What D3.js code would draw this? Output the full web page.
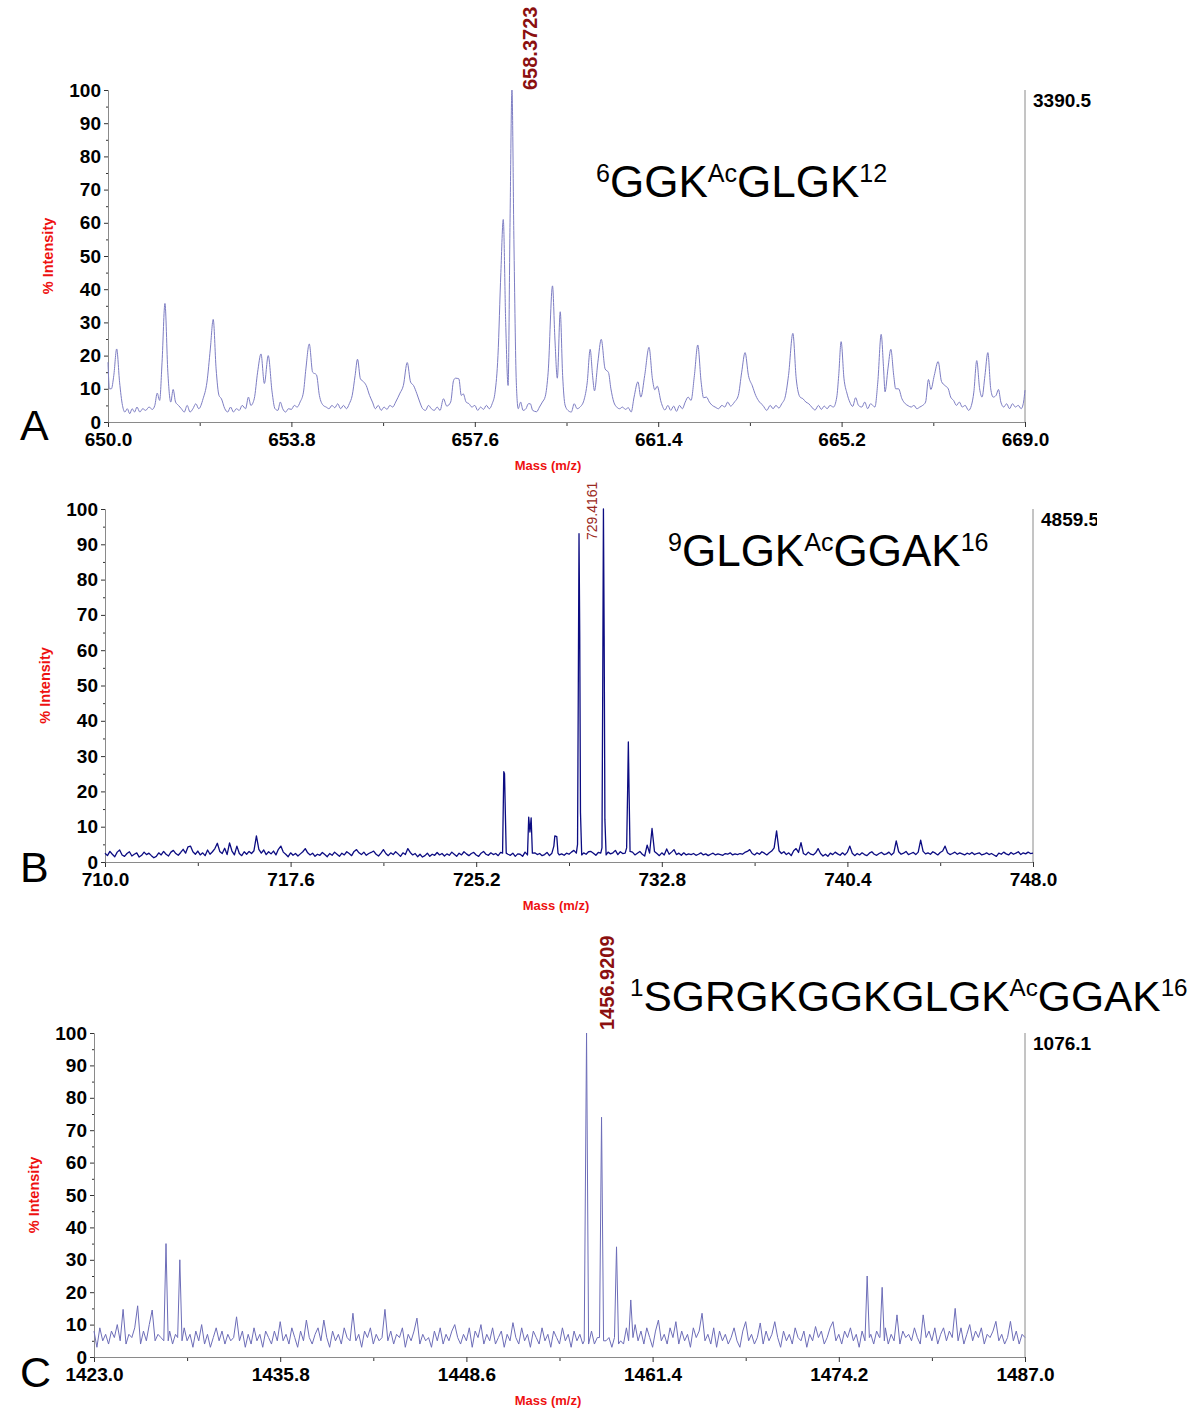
<!DOCTYPE html>
<html>
<head>
<meta charset="utf-8">
<script src="https://cdn.jsdelivr.net/npm/d3@7"></script>
<style>
  body { margin: 0; background: #fff; }
  svg { display: block; font-family: "Liberation Sans", Arial, sans-serif; }
</style>
</head>
<body>
<div id="chart"></div>
<script>

// ---- panel A : smooth profile, [m/z, % intensity]
var spectrumA = [
  [650.00,18],[650.03,10],[650.07,10],[650.12,14],[650.18,22],[650.24,12],[650.30,5],[650.35,3],
  [650.40,4],[650.45,2.5],[650.50,4],[650.55,3],[650.60,4.5],[650.66,3],[650.72,4],[650.78,3.5],
  [650.85,4.5],[650.92,3.8],[650.97,5],[651.02,8.7],[651.07,6.5],[651.12,18],[651.18,35.7],[651.24,15],
  [651.30,6],[651.35,9.8],[651.40,6],[651.46,5],[651.52,4],[651.58,3],[651.64,5],[651.70,3],
  [651.76,4],[651.82,5.5],[651.88,4],[651.97,7],[652.05,12],[652.12,22],[652.18,30.9],[652.24,16],
  [652.30,8],[652.35,7],[652.42,4],[652.48,3],[652.54,4.5],[652.60,3],[652.66,4],[652.72,3.5],
  [652.78,5],[652.85,4],[652.91,7.5],[652.96,5],[653.03,7],[653.10,15],[653.17,20.5],[653.24,11.6],
  [653.32,20],[653.40,9],[653.46,4],[653.52,3.5],[653.57,6],[653.62,4],[653.68,3],[653.74,4],
  [653.80,3.8],[653.86,5],[653.92,4.5],[653.98,6],[654.05,9],[654.10,16],[654.17,23.5],[654.24,15],
  [654.32,14.2],[654.38,8],[654.46,5],[654.52,4.5],[654.58,4],[654.64,5],[654.70,4.3],[654.76,5.5],
  [654.82,4],[654.88,5],[654.94,4],[655.00,5.5],[655.06,8],[655.12,14],[655.17,18.9],[655.23,13],
  [655.29,12.2],[655.35,11],[655.42,8],[655.48,6],[655.54,4],[655.60,5],[655.66,3.5],[655.72,4.5],
  [655.78,3.8],[655.84,5],[655.90,4.5],[655.96,6],[656.05,8.7],[656.12,11],[656.20,17.9],[656.27,12],
  [656.33,11],[656.40,8.5],[656.46,6],[656.52,4],[656.58,3.5],[656.64,5],[656.70,4],[656.76,3.5],
  [656.82,4.5],[656.88,3.5],[656.95,7],[657.02,4.8],[657.10,6],[657.16,12.5],[657.20,13.2],[657.27,13],
  [657.32,8],[657.36,8.5],[657.42,6],[657.48,5.5],[657.54,4.5],[657.60,5],[657.66,3.5],[657.72,4.5],
  [657.78,3.8],[657.84,5],[657.90,4],[657.96,5.5],[658.02,9],[658.08,20],[658.14,45],[658.19,61],
  [658.24,30],[658.29,11],[658.33,60],[658.37,100],[658.41,55],[658.46,12],[658.50,4],[658.55,6],
  [658.60,3.5],[658.66,4],[658.71,5.5],[658.75,5.5],[658.80,3.5],[658.88,3.1],[658.94,4.5],[659.00,6],
  [659.06,7.7],[659.12,15],[659.21,41],[659.26,25],[659.31,13.2],[659.37,33.2],[659.42,14],[659.47,5.1],
  [659.53,3.5],[659.60,3],[659.66,5.5],[659.72,4],[659.78,4.5],[659.86,6.5],[659.93,12],[659.99,21.9],
  [660.04,14],[660.08,9.4],[660.15,18],[660.22,24.9],[660.30,16],[660.37,14.9],[660.42,10],[660.48,6],
  [660.54,4.5],[660.60,4],[660.66,4.5],[660.72,3.8],[660.78,4.3],[660.84,3],[660.90,7.5],[660.98,12.1],
  [661.04,7.5],[661.12,14],[661.21,22.5],[661.28,13],[661.33,9.7],[661.38,10.8],[661.46,6],[661.54,3.6],
  [661.60,5],[661.66,3.5],[661.72,4.8],[661.78,3.2],[661.84,5],[661.90,4],[661.96,6],[662.02,7.5],
  [662.08,6.5],[662.15,14],[662.22,23.2],[662.29,12],[662.34,7.3],[662.40,7.5],[662.46,6],[662.52,5],
  [662.58,4.5],[662.65,4],[662.72,5],[662.78,4.5],[662.84,6],[662.90,4.8],[662.98,6],[663.06,8],
  [663.13,15],[663.20,20.9],[663.27,14],[663.35,10.9],[663.42,8],[663.50,6],[663.57,5],[663.65,3.5],
  [663.72,5],[663.78,4],[663.84,5],[663.90,4.2],[663.96,5.5],[664.03,7.5],[664.10,14],[664.19,26.7],
  [664.26,13],[664.34,7.5],[664.40,7],[664.46,6],[664.52,5.5],[664.58,4.5],[664.65,3.6],[664.72,5],
  [664.78,3.8],[664.84,4.8],[664.90,4],[664.96,5],[665.03,4.5],[665.10,7.5],[665.14,14],[665.19,24.2],
  [665.25,13],[665.31,8.7],[665.37,6],[665.43,4.7],[665.49,7.3],[665.55,5],[665.62,4.5],[665.68,6],
  [665.74,4],[665.80,5.5],[665.89,4.5],[665.95,12],[666.02,26.4],[666.07,16],[666.10,9.1],[666.16,16],
  [666.22,21.9],[666.28,14],[666.32,10],[666.38,10],[666.45,7],[666.52,5.5],[666.58,4.9],[666.64,4.5],
  [666.70,5],[666.76,4],[666.82,4.5],[666.88,5],[666.94,6],[667.00,12.8],[667.05,9.8],[667.12,14],
  [667.20,18.2],[667.27,12.2],[667.34,11],[667.41,10],[667.46,7.5],[667.52,6.5],[667.58,5],[667.64,6],
  [667.70,4.5],[667.76,5],[667.83,3.5],[667.89,5],[667.94,9],[668.00,18.5],[668.06,10],[668.11,7.5],
  [668.17,14],[668.23,20.9],[668.29,10],[668.34,7.5],[668.40,8],[668.45,9.8],[668.50,6],[668.56,4.5],
  [668.62,5.5],[668.68,4],[668.74,5.5],[668.80,4.5],[668.86,5],[668.92,4],[668.97,6],[669.00,9.6]
];

// ---- panel B : baseline read every 0.1 m/z from 710.0, plus the isotope peaks
var noiseB = [
  2.5,1.8,3.0,2.2,1.5,2.8,3.4,2.0,1.6,2.4, 2.9,1.7,2.2,2.6,1.4,1.9,2.8,2.1,2.5,1.8,
  1.2,1.6,2.6,2.0,3.0,2.2,1.7,2.8,3.3,2.4, 1.9,2.7,3.6,2.5,4.3,4.5,2.9,2.2,3.1,2.0,
  2.6,1.8,3.4,2.2,2.9,3.8,5.3,3.0,2.4,3.9, 2.1,5.4,3.1,2.0,4.5,2.4,1.8,2.9,2.2,3.0,
  2.4,3.2,7.4,3.6,2.5,3.4,2.1,2.9,2.3,3.1, 2.0,3.6,4.5,2.8,2.2,1.5,2.6,1.9,2.4,1.7,
  2.3,2.9,3.8,2.6,2.0,2.5,1.6,2.2,1.9,2.7, 2.1,1.5,2.4,1.9,2.8,2.2,1.6,2.5,2.0,2.9,
  2.4,1.8,3.0,3.5,2.6,2.1,2.8,1.9,2.4,2.7, 3.1,2.2,1.7,2.5,3.5,2.4,1.8,2.6,2.1,2.9,
  2.3,1.6,2.6,2.1,3.8,2.7,2.0,2.4,1.5,2.2, 1.4,1.8,2.5,1.6,2.2,1.9,2.7,2.0,2.4,1.7,
  2.3,1.9,2.8,2.2,1.6,2.5,2.0,2.9,2.3,1.8, 2.4,2.7,2.0,1.6,2.5,3.0,2.2,1.9,2.6,2.1,
  2.4,1.8,2.7,2.6,2.0,2.2,1.9,2.5,1.6,2.3, 2.2,1.6,2.8,2.0,2.4,1.9,2.6,2.1,2.4,1.8,
  2.1,2.7,1.8,2.4,3.0,2.6,2.0,2.3,1.9,2.5, 2.2,2.8,3.3,4.5,2.4,2.0,2.6,2.2,2.9,3.0,
  2.5,1.9,2.7,3.8,2.5,2.2,2.8,2.3,2.6,3.3, 2.1,2.9,2.4,3.4,2.6,2.2,2.8,2.0,2.5,3.0,
  2.2,1.7,4.8,2.5,9.5,3.0,2.4,1.8,2.6,2.0, 3.7,2.2,2.8,3.5,2.1,2.5,1.9,2.6,2.0,2.3,
  2.1,2.4,1.9,2.2,2.6,2.0,2.3,1.8,2.2,2.5, 2.0,2.3,2.1,1.9,2.4,2.2,2.6,2.0,2.3,2.1,
  2.4,2.2,2.7,3.0,3.5,2.4,2.0,2.6,2.2,2.9, 2.5,2.0,2.6,3.1,4.0,8.8,3.2,2.4,2.9,2.1,
  2.6,1.8,3.2,3.8,2.7,5.5,2.4,2.0,2.8,2.2, 2.0,2.6,3.8,2.4,1.7,2.2,1.6,2.5,2.1,2.8,
  2.3,1.9,2.6,2.0,2.8,4.5,2.5,1.8,2.4,2.0, 2.6,2.1,1.8,2.5,2.9,2.2,1.9,2.4,2.7,2.1,
  2.3,2.8,2.0,2.6,6.0,2.9,2.2,2.5,3.0,2.1, 2.4,2.7,2.1,2.8,6.2,3.0,2.3,2.6,2.2,2.9,
  2.5,2.0,2.7,3.1,4.5,2.6,2.1,2.4,2.8,2.2, 2.6,2.3,2.0,2.5,2.2,2.7,2.1,2.4,2.6,2.0,
  2.2,2.6,2.1,2.4,2.0,1.6,2.5,2.2,2.8,2.3, 2.0,2.7,2.2,2.5,2.9,2.1,2.6,2.3,2.8,2.4,
  2.5
];
var peaksB = [
  [[726.28,2.5],[726.33,25.6],[726.36,25],[726.39,15],[726.43,2.5]],
  [[727.30,2.0],[727.35,12.7],[727.40,8.5],[727.45,12.5],[727.50,2.5]],
  [[728.30,2.5],[728.38,4.5],[728.42,7.4],[728.50,7.2],[728.55,2.5]],
  [[729.30,2.5],[729.35,5],[729.38,48],[729.41,93],[729.44,64],[729.47,14],[729.52,2]],
  [[730.30,2.5],[730.35,4],[730.38,48],[730.41,100],[730.44,64],[730.47,12],[730.52,2]],
  [[731.30,2.5],[731.36,4],[731.40,20],[731.43,34],[731.46,20],[731.50,3]]
];

// ---- panel C : baseline read every 0.2 m/z from 1423.0, plus the peaks
var noiseC = [
  8,3,9,5,7, 4,8,6,10,5, 14.7,4,7,6,9, 15.8,4,8,5,10, 14.5,5,7,6,9,
  5,8,4,7,6, 4,9,5,7,3, 8,5,10,4,7, 3,6,9,5,8, 4,7,5,6,12.4,
  5,8,3,7,4, 9,5,7,3,8, 6,4,8,5,10.9, 5,7,4,9,6, 3,8,5,11.4,6,
  4,7,9,5,11.4, 6,3,8,5,7, 4,9,6,5,13.5, 5,7,3,8,6, 9,4,7,5,6,
  14.7,5,8,4,7, 6,9,3,7,5, 8,12,4,7,5, 6,3,8,5,9, 4,7,5,8,10,
  6,4,7,5,9, 3,8,6,10,4, 7,5,9,4,6, 8,3,7,5,10.6, 6,4,9,5,7,
  3,8,6,4,9, 5,7,3,8,6, 4,9,5,7,3, 8,5,7,4,6, 5,8,4,6,7,
  9,5,6,3,7, 8,5,4,9,6, 7,10,5,8,4, 9,6,3,8,11.4, 5,7,4,9,6,
  10.9,4,8,5,7, 3,9,6,8,13.5, 5,7,4,9,3, 8,5,7,4,6, 9,5,3,8,10.9,
  5,7,4,6,10.5, 4,8,5,7,10.9, 6,3,8,5,7, 4,9,6,5,8, 3,7,5,9.4,6,
  8,4,6,9,10.9, 5,7,4,8,6, 9,5,7,3,8, 6,5,7,4,8, 6,5,9,4,7,
  5,13,4,8,6, 7,5,9,6,4, 13,6,8,5,9, 4,7,9,5,8, 6,15,5,9,4,
  7,10,5,8,6, 9,4,7,6,8, 11,5,7,4,6, 11,5,8,4,7,
  6
];
var peaksC = [
  [[1427.80,5],[1427.95,35],[1428.10,5]],
  [[1428.75,6],[1428.90,30],[1429.05,5]],
  [[1456.70,5],[1456.86,100],[1457.00,4]],
  [[1457.75,6],[1457.89,74],[1458.03,5]],
  [[1458.78,6],[1458.92,34],[1459.06,4]],
  [[1459.75,5],[1459.90,17.6],[1460.05,6]],
  [[1476.00,5],[1476.15,25],[1476.30,6]],
  [[1477.03,6],[1477.18,21.5],[1477.33,5]]
];

// tick labels on the mass axes
var ticksA = [650.0, 653.8, 657.6, 661.4, 665.2, 669.0];
var ticksB = [710.0, 717.6, 725.2, 732.8, 740.4, 748.0];
var ticksC = [1423.0, 1435.8, 1448.6, 1461.4, 1474.2, 1487.0];

// annotated peak, absolute count at 100 %, panel letters
var peakMass = [658.3723, 729.4161, 1456.9209];
var peakText = ["658.3723", "729.4161", "1456.9209"];
var baseCount = ["3390.5", "4859.5", "1076.1"];
var panelLetters = ["A", "B", "C"];

// peptide sequences: [text, superscript?]
var peptideA = [["6", 1], ["GGK", 0], ["Ac", 1], ["GLGK", 0], ["12", 1]];
var peptideB = [["9", 1], ["GLGK", 0], ["Ac", 1], ["GGAK", 0], ["16", 1]];
var peptideC = [["1", 1], ["SGRGKGGKGLGK", 0], ["Ac", 1], ["GGAK", 0], ["16", 1]];


function buildSeries(start, step, noise, peaks) {
  var pts = noise.map(function(v, i) { return [start + step * i, v]; });
  peaks.forEach(function(seg) {
    var lo = seg[0][0], hi = seg[seg.length - 1][0];
    pts = pts.filter(function(d) { return d[0] < lo || d[0] > hi; });
    pts = pts.concat(seg);
  });
  return pts.sort(function(a, b) { return a[0] - b[0]; });
}

var svg = d3.select("#chart").append("svg")
  .attr("width", 1200)
  .attr("height", 1421);

svg.append("defs").append("clipPath").attr("id", "edge")
  .append("rect").attr("x", 0).attr("y", 0).attr("width", 1097).attr("height", 1421);

var panels = [
  { i: 0, data: spectrumA, ticks: ticksA, peptide: peptideA,
    curve: d3.curveMonotoneX, stroke: "#7d7dc3", sw: 1,
    left: 108, right: 1025, top: 90, bottom: 422,
    peakDx: 25, peakDy: 0, peakFont: 20, peakBold: true,
    pepX: 596, pepY: 197, pepSize: 44, letterY: 440, massX: 548 },
  { i: 1, data: buildSeries(710, 0.1, noiseB, peaksB), ticks: ticksB, peptide: peptideB,
    curve: d3.curveLinear, stroke: "#0c0c82", sw: 1.3,
    left: 105, right: 1033, top: 509, bottom: 862,
    peakDx: 18, peakDy: 31, peakFont: 14, peakBold: false,
    pepX: 668, pepY: 566, pepSize: 44, letterY: 882, massX: 556 },
  { i: 2, data: buildSeries(1423, 0.2, noiseC, peaksC), ticks: ticksC, peptide: peptideC,
    curve: d3.curveLinear, stroke: "#6d6db8", sw: 1,
    left: 94, right: 1025, top: 1033, bottom: 1357,
    peakDx: 27, peakDy: -3, peakFont: 20, peakBold: true,
    pepX: 630, pepY: 1011, pepSize: 42.5, letterY: 1387, massX: 548 }
];

panels.forEach(drawPanel);

function drawPanel(p) {
  var g = svg.append("g");
  var ticks = p.ticks;

  var x = d3.scaleLinear()
    .domain([ticks[0], ticks[ticks.length - 1]])
    .range([p.left, p.right]);
  var y = d3.scaleLinear()
    .domain([0, 100])
    .range([p.bottom, p.top]);

  // minor ticks first so the labelled ones sit on top
  var minorX = d3.pairs(ticks).map(function(d) { return (d[0] + d[1]) / 2; });
  g.append("g")
    .attr("transform", "translate(0," + p.bottom + ")")
    .call(d3.axisBottom(x).tickValues(minorX).tickSize(4).tickSizeOuter(0).tickFormat(""));
  g.append("g")
    .attr("transform", "translate(" + p.left + ",0)")
    .call(d3.axisLeft(y).tickValues(d3.range(5, 100, 10)).tickSize(2).tickSizeOuter(0).tickFormat(""));

  // x axis
  g.append("g")
    .attr("class", "xaxis")
    .attr("transform", "translate(0," + p.bottom + ")")
    .call(d3.axisBottom(x).tickValues(ticks).tickFormat(d3.format(".1f"))
      .tickSize(5).tickSizeOuter(0).tickPadding(6));

  // y axis
  g.append("g")
    .attr("class", "yaxis")
    .attr("transform", "translate(" + p.left + ",0)")
    .call(d3.axisLeft(y).tickValues(d3.range(0, 101, 10))
      .tickSize(4).tickSizeOuter(0).tickPadding(3));

  g.selectAll(".domain").attr("stroke", "#8a8a8a");
  g.selectAll(".tick line").attr("stroke", "#333");
  g.selectAll(".tick text")
    .attr("font-family", "'Liberation Sans', Arial, sans-serif")
    .attr("font-size", "19px")
    .attr("font-weight", "bold")
    .attr("fill", "#000");

  // right hand axis with absolute intensity of the 100 % peak
  g.append("line")
    .attr("x1", x.range()[1]).attr("x2", x.range()[1])
    .attr("y1", y(100)).attr("y2", y(0))
    .attr("stroke", "#8a8a8a");
  g.append("text")
    .attr("clip-path", "url(#edge)")
    .attr("x", x.range()[1] + 8)
    .attr("y", y(100) + 17)
    .attr("font-size", "19px")
    .attr("font-weight", "bold")
    .text(baseCount[p.i]);

  // spectrum trace
  var line = d3.line()
    .x(function(d) { return x(d[0]); })
    .y(function(d) { return y(d[1]); })
    .curve(p.curve);
  g.append("path")
    .datum(p.data)
    .attr("fill", "none")
    .attr("stroke", p.stroke)
    .attr("stroke-width", p.sw)
    .attr("stroke-linejoin", "round")
    .attr("d", line);

  // annotated peak mass, vertical
  g.append("text")
    .attr("transform", "translate(" + (x(peakMass[p.i]) + p.peakDx) + "," + (y(100) + p.peakDy) + ") rotate(-90)")
    .attr("font-size", p.peakFont + "px")
    .attr("font-weight", p.peakBold ? "bold" : "normal")
    .attr("fill", p.peakBold ? "#8b1010" : "#9a2a22")
    .text(peakText[p.i]);

  // axis titles
  g.append("text")
    .attr("transform", "translate(" + (p.left - 55) + "," + ((y(0) + y(100)) / 2) + ") rotate(-90)")
    .attr("text-anchor", "middle")
    .attr("font-size", "14.5px")
    .attr("font-weight", "bold")
    .attr("fill", "#ee1111")
    .text("% Intensity");
  g.append("text")
    .attr("x", p.massX)
    .attr("y", p.bottom + 48)
    .attr("text-anchor", "middle")
    .attr("font-size", "13px")
    .attr("font-weight", "bold")
    .attr("fill", "#ee1111")
    .text("Mass (m/z)");

  // panel letter
  g.append("text")
    .attr("x", 20)
    .attr("y", p.letterY)
    .attr("font-size", "43px")
    .text(panelLetters[p.i]);

  // peptide sequence with superscripts
  var pep = g.append("text")
    .attr("x", p.pepX)
    .attr("y", p.pepY)
    .attr("font-size", p.pepSize + "px");
  var raised = false;
  p.peptide.forEach(function(part) {
    var sup = part[1] === 1;
    var dy = 0;
    if (sup && !raised) dy = -15;
    if (!sup && raised) dy = 15;
    raised = sup;
    pep.append("tspan")
      .attr("dy", dy)
      .attr("font-size", sup ? (p.pepSize * 0.57) + "px" : null)
      .text(part[0]);
  });
}
</script>
</body>
</html>
